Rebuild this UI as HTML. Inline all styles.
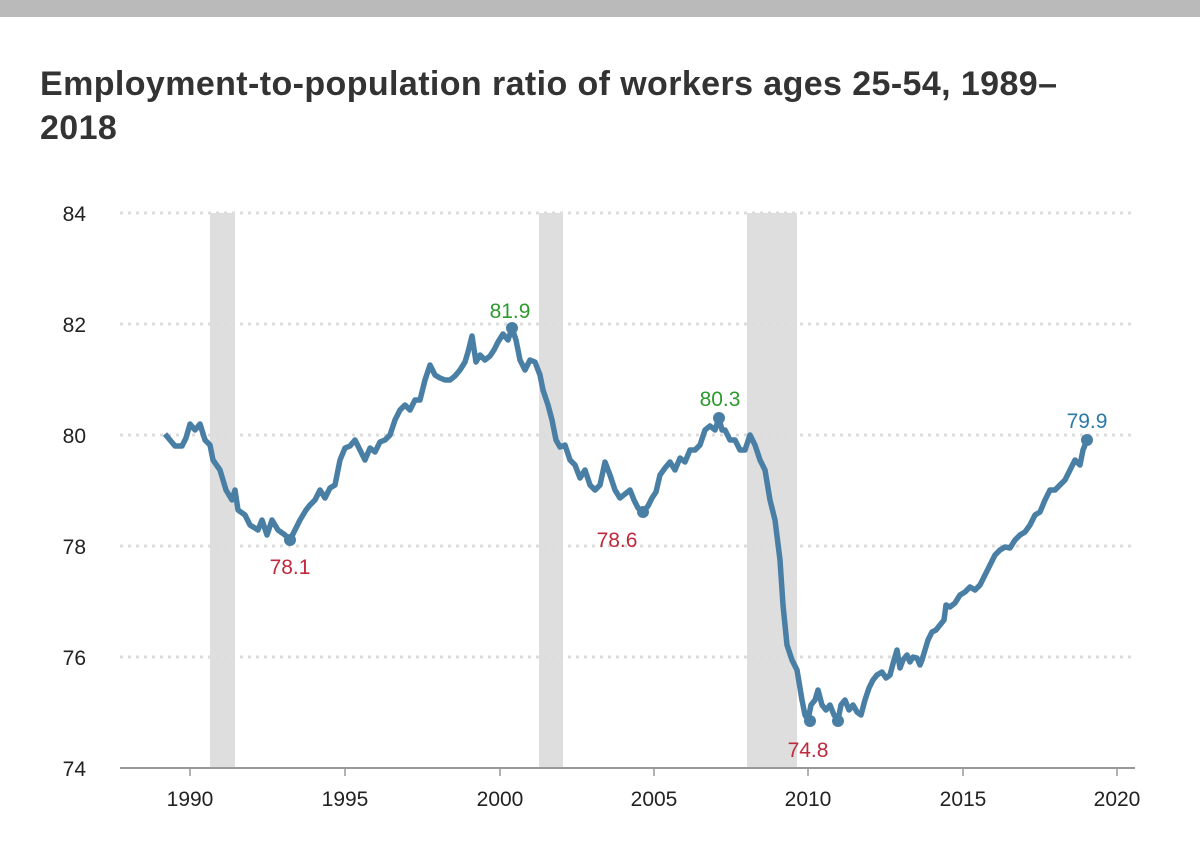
<!DOCTYPE html>
<html><head><meta charset="utf-8"><style>
html,body{margin:0;padding:0;background:#fff;}
body{width:1200px;height:864px;overflow:hidden;position:relative;font-family:"Liberation Sans",sans-serif;}
.bar{position:absolute;left:0;top:0;width:1200px;height:17px;background:#bababa;}
h1{position:absolute;left:40px;top:62px;margin:0;font-size:34px;line-height:44px;font-weight:bold;color:#333;width:1150px;letter-spacing:0.4px;}
</style></head><body>
<div class="bar"></div>
<h1>Employment-to-population ratio of workers ages 25-54, 1989–<br>2018</h1>
<svg width="1200" height="864" style="position:absolute;left:0;top:0" font-family="Liberation Sans, sans-serif">
<g fill="#dedede">
<rect x="210" y="213" width="25" height="555"/>
<rect x="539" y="213" width="24" height="555"/>
<rect x="747" y="213" width="50" height="555"/>
</g>
<g stroke="#dcdcdc" stroke-width="3" stroke-dasharray="3,5">
<line x1="120" x2="1135" y1="213" y2="213"/>
<line x1="120" x2="1135" y1="324" y2="324"/>
<line x1="120" x2="1135" y1="435" y2="435"/>
<line x1="120" x2="1135" y1="546" y2="546"/>
<line x1="120" x2="1135" y1="657" y2="657"/>
</g>
<line x1="120" x2="1135" y1="768" y2="768" stroke="#999" stroke-width="2"/>
<g stroke="#999" stroke-width="1.5">
<line x1="190" x2="190" y1="768" y2="776"/><line x1="345" x2="345" y1="768" y2="776"/>
<line x1="500" x2="500" y1="768" y2="776"/><line x1="654" x2="654" y1="768" y2="776"/>
<line x1="808" x2="808" y1="768" y2="776"/><line x1="963" x2="963" y1="768" y2="776"/>
<line x1="1117" x2="1117" y1="768" y2="776"/>
</g>
<g font-size="21" fill="#222" text-anchor="end">
<text x="86" y="221">84</text><text x="86" y="332">82</text><text x="86" y="443">80</text>
<text x="86" y="554">78</text><text x="86" y="665">76</text><text x="86" y="776">74</text>
</g>
<g font-size="21" fill="#222" text-anchor="middle">
<text x="190" y="806">1990</text><text x="345" y="806">1995</text><text x="500" y="806">2000</text>
<text x="654" y="806">2005</text><text x="808" y="806">2010</text><text x="963" y="806">2015</text>
<text x="1117" y="806">2020</text>
</g>
<polyline fill="none" stroke="#4a7fa5" stroke-width="5.5" stroke-linejoin="round" points="165,434 170,440 175,446 182,446 186,438 190,424 195,430 200,424 205,440 210,445 213,460 220,470 226,490 232,500 235,490 238,510 245,515 250,525 258,530 262,520 267,535 272,520 278,530 285,535 290,540 295,530 300,520 306,510 310,505 315,500 320,490 325,498 330,488 335,485 340,460 345,448 350,446 355,440 360,450 365,460 370,448 375,452 380,442 385,440 390,435 395,420 400,410 405,405 410,410 415,400 420,400 425,380 430,365 435,375 440,378 445,380 450,380 455,376 460,370 465,362 468,352 472,336 476,362 480,355 485,360 490,356 494,350 498,342 503,334 508,340 512,328 516,340 520,360 525,370 530,360 535,362 540,375 543,390 548,405 552,420 556,440 560,447 565,445 570,460 575,465 580,478 585,470 590,485 595,490 600,485 605,462 610,475 615,490 620,498 625,494 630,490 634,500 638,508 643,512 648,506 652,498 656,492 660,475 665,468 670,462 675,470 680,458 685,462 690,450 695,450 700,445 705,430 710,426 715,430 719,418 722,430 725,430 730,440 735,440 740,450 745,450 750,435 755,445 760,460 765,470 770,500 775,520 780,560 783,605 787,645 792,660 797,670 802,700 805,715 808,720 811,705 815,700 818,690 822,705 826,710 830,705 834,715 838,720 841,705 845,700 849,710 853,705 857,712 861,715 865,700 869,688 873,680 877,675 882,672 886,678 890,675 894,660 897,650 900,668 903,660 907,655 910,662 913,657 917,658 920,665 922,660 925,650 928,640 932,632 936,630 940,625 944,620 946,605 950,607 955,603 960,595 965,592 970,587 975,590 980,585 985,575 990,565 995,555 1000,550 1005,547 1010,548 1015,540 1020,535 1025,532 1030,525 1035,515 1040,512 1045,500 1050,490 1055,490 1060,485 1065,480 1070,470 1075,460 1080,465 1083,450 1087,440"/>
<g fill="#4a7fa5">
<circle cx="290" cy="540" r="6"/><circle cx="512" cy="328" r="6"/><circle cx="643" cy="512" r="6"/>
<circle cx="719" cy="418" r="6"/><circle cx="810" cy="721" r="6"/><circle cx="838" cy="721" r="6"/>
<circle cx="1087" cy="440" r="6"/>
</g>
<g font-size="21" text-anchor="middle">
<text x="290" y="574" fill="#c0283c">78.1</text>
<text x="510" y="318" fill="#2e9a2e">81.9</text>
<text x="617" y="547" fill="#c0283c">78.6</text>
<text x="720" y="406" fill="#2e9a2e">80.3</text>
<text x="808" y="757" fill="#c0283c">74.8</text>
<text x="1087" y="428" fill="#2a7aa8">79.9</text>
</g>
</svg>
</body></html>
